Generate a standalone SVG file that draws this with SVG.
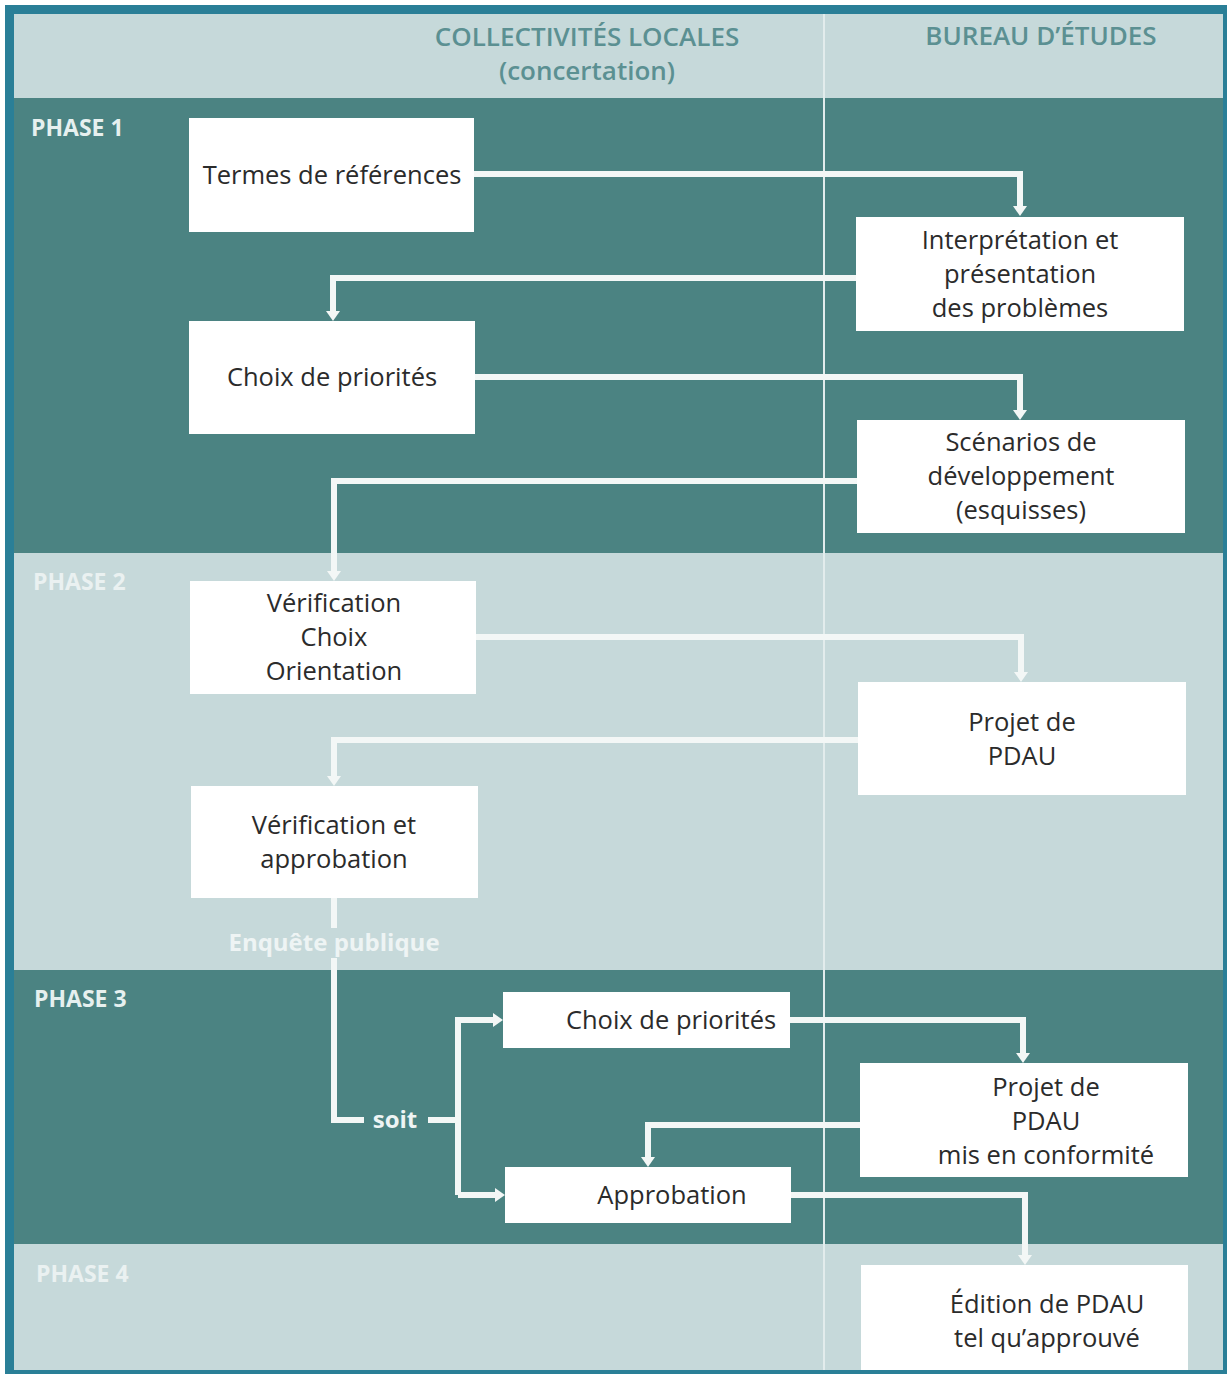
<svg xmlns="http://www.w3.org/2000/svg" width="1230" height="1374" viewBox="0 0 1230 1374">
  <style>
    .dark { fill: #4b8382; }
    .light { fill: #c6d9da; }
    .box { fill: #ffffff; }
    .t { font-family: "Open Sans", "Liberation Sans", sans-serif; font-size: 25.5px; fill: #2b2b2b; text-anchor: middle; }
    .hd { font-family: "Open Sans", "Liberation Sans", sans-serif; font-size: 26px; font-weight: 600; fill: #5b9092; text-anchor: middle; }
    .ph { font-family: "Open Sans", "Liberation Sans", sans-serif; font-size: 23px; font-weight: 700; }
    .ph-d { fill: #e6f0ef; }
    .ph-l { fill: #eaf1f1; }
    .lbl { font-family: "Open Sans", "Liberation Sans", sans-serif; font-size: 24px; font-weight: 700; fill: #eef4f4; text-anchor: middle; }
    .c { fill: none; stroke: #f3f7f6; stroke-width: 6; stroke-linejoin: miter; }
  </style>
  <defs>
    <marker id="ah" viewBox="0 0 10 14" refX="0" refY="7" markerWidth="10" markerHeight="14" markerUnits="userSpaceOnUse" orient="auto">
      <path d="M0,0 L10,7 L0,14 z" fill="#f3f7f6"/>
    </marker>
  </defs>

  <!-- frame and bands -->
  <rect x="0" y="0" width="1230" height="1374" fill="#ffffff"/>
  <rect x="5" y="5" width="1222" height="1369" fill="#2a7f97"/>
  <rect class="light" x="14" y="14" width="1209" height="84"/>
  <rect class="dark" x="14" y="98" width="1209" height="455"/>
  <rect class="light" x="14" y="553" width="1209" height="417"/>
  <rect class="dark" x="14" y="970" width="1209" height="274"/>
  <rect class="light" x="14" y="1244" width="1209" height="126"/>

  <!-- column divider -->
  <line x1="824" y1="14" x2="824" y2="1370" stroke="#e2ecec" stroke-width="2"/>

  <!-- column headings -->
  <g id="headings">
    <text class="hd" x="587" y="46">COLLECTIVITÉS LOCALES</text>
    <text class="hd" x="587" y="80">(concertation)</text>
    <text class="hd" x="1041" y="45">BUREAU D’ÉTUDES</text>
  </g>

  <!-- phase labels -->
  <g id="phases">
    <text class="ph ph-d" x="31" y="136">PHASE 1</text>
    <text class="ph ph-l" x="33" y="590">PHASE 2</text>
    <text class="ph ph-d" x="34" y="1007">PHASE 3</text>
    <text class="ph ph-l" x="36" y="1282">PHASE 4</text>
  </g>

  <!-- connectors -->
  <g id="connectors">
    <path class="c" d="M474,174 H1020 V206" marker-end="url(#ah)"/>
    <path class="c" d="M856,278 H333 V311" marker-end="url(#ah)"/>
    <path class="c" d="M475,377 H1020 V410" marker-end="url(#ah)"/>
    <path class="c" d="M857,481 H334 V571" marker-end="url(#ah)"/>
    <path class="c" d="M476,637 H1021 V672" marker-end="url(#ah)"/>
    <path class="c" d="M858,740 H334 V776" marker-end="url(#ah)"/>
    <path class="c" d="M334,898 V928"/>
    <path class="c" d="M334,958 V1120 H364"/>
    <path class="c" d="M428,1120 H458"/>
    <path class="c" d="M458,1195 V1020 H493" marker-end="url(#ah)"/>
    <path class="c" d="M458,1195 H495" marker-end="url(#ah)"/>
    <path class="c" d="M790,1020 H1023 V1053" marker-end="url(#ah)"/>
    <path class="c" d="M860,1125 H648 V1157" marker-end="url(#ah)"/>
    <path class="c" d="M791,1195 H1025 V1255" marker-end="url(#ah)"/>
    <text class="lbl" x="334" y="951">Enquête publique</text>
    <text class="lbl" x="395" y="1128">soit</text>
  </g>

  <!-- nodes -->
  <g id="n-termes">
    <rect class="box" x="189" y="118" width="285" height="114"/>
    <text class="t" x="332" y="184">Termes de références</text>
  </g>
  <g id="n-interpretation">
    <rect class="box" x="856" y="217" width="328" height="114"/>
    <text class="t" x="1020" y="249">Interprétation et</text>
    <text class="t" x="1020" y="283">présentation</text>
    <text class="t" x="1020" y="317">des problèmes</text>
  </g>
  <g id="n-choix1">
    <rect class="box" x="189" y="321" width="286" height="113"/>
    <text class="t" x="332" y="386">Choix de priorités</text>
  </g>
  <g id="n-scenarios">
    <rect class="box" x="857" y="420" width="328" height="113"/>
    <text class="t" x="1021" y="451">Scénarios de</text>
    <text class="t" x="1021" y="485">développement</text>
    <text class="t" x="1021" y="519">(esquisses)</text>
  </g>
  <g id="n-verification">
    <rect class="box" x="190" y="581" width="286" height="113"/>
    <text class="t" x="334" y="612">Vérification</text>
    <text class="t" x="334" y="646">Choix</text>
    <text class="t" x="334" y="680">Orientation</text>
  </g>
  <g id="n-projet">
    <rect class="box" x="858" y="682" width="328" height="113"/>
    <text class="t" x="1022" y="731">Projet de</text>
    <text class="t" x="1022" y="765">PDAU</text>
  </g>
  <g id="n-verif-approbation">
    <rect class="box" x="191" y="786" width="287" height="112"/>
    <text class="t" x="334" y="834">Vérification et</text>
    <text class="t" x="334" y="868">approbation</text>
  </g>
  <g id="n-choix2">
    <rect class="box" x="503" y="992" width="287" height="56"/>
    <text class="t" x="671" y="1029">Choix de priorités</text>
  </g>
  <g id="n-projet-conforme">
    <rect class="box" x="860" y="1063" width="328" height="114"/>
    <text class="t" x="1046" y="1096">Projet de</text>
    <text class="t" x="1046" y="1130">PDAU</text>
    <text class="t" x="1046" y="1164">mis en conformité</text>
  </g>
  <g id="n-approbation">
    <rect class="box" x="505" y="1167" width="286" height="56"/>
    <text class="t" x="672" y="1204">Approbation</text>
  </g>
  <g id="n-edition">
    <rect class="box" x="861" y="1265" width="327" height="105"/>
    <text class="t" x="1047" y="1313">Édition de PDAU</text>
    <text class="t" x="1047" y="1347">tel qu’approuvé</text>
  </g>
</svg>
